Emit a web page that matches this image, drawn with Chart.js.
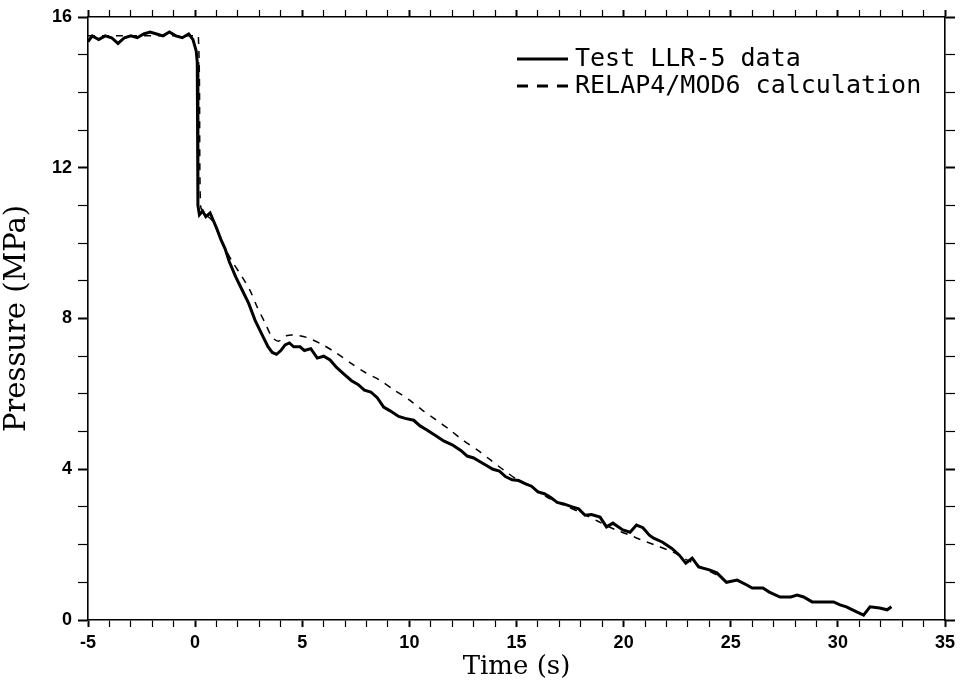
<!DOCTYPE html>
<html>
<head>
<meta charset="utf-8">
<script src="https://cdn.jsdelivr.net/npm/chart.js@4"></script>
<style>
  html, body { margin: 0; padding: 0; background: #fff; }
  #box { width: 965px; height: 683px; }
</style>
</head>
<body>
<div id="box"><canvas id="grafica"></canvas></div>
<script>
// datos
const tiempoEnsayo = [-5.0,-4.8,-4.5,-4.2,-3.9,-3.6,-3.3,-3.0,-2.7,-2.4,-2.1,-1.8,-1.5,-1.2,-0.9,-0.6,-0.3,-0.1,0.05,0.1,0.13,0.2,0.35,0.5,0.7,0.85,1.0,1.2,1.4,1.6,1.9,2.2,2.5,2.8,3.1,3.4,3.6,3.8,4.0,4.2,4.4,4.6,4.9,5.1,5.4,5.7,6.0,6.3,6.6,7.0,7.3,7.6,7.9,8.2,8.5,8.8,9.1,9.5,9.8,10.2,10.5,10.8,11.2,11.6,12.0,12.4,12.7,13.0,13.3,13.6,13.9,14.2,14.5,14.8,15.1,15.4,15.7,16.0,16.3,16.6,16.9,17.2,17.6,17.9,18.2,18.5,18.9,19.2,19.5,19.96,20.3,20.6,20.9,21.2,21.4,21.8,22.25,22.6,22.9,23.2,23.5,24.0,24.35,24.8,25.3,25.75,26.0,26.5,26.8,27.3,27.8,28.1,28.4,28.8,29.3,29.8,30.1,30.4,30.9,31.2,31.5,31.95,32.3,32.5];
const presionEnsayo = [15.35,15.5,15.4,15.5,15.45,15.3,15.45,15.5,15.45,15.55,15.6,15.55,15.5,15.6,15.5,15.45,15.55,15.4,15.1,14.8,11.0,10.75,10.85,10.7,10.8,10.6,10.4,10.1,9.85,9.5,9.1,8.75,8.4,7.95,7.6,7.25,7.1,7.05,7.15,7.3,7.35,7.25,7.25,7.15,7.2,6.95,7.0,6.9,6.7,6.5,6.35,6.25,6.1,6.05,5.9,5.65,5.55,5.4,5.35,5.3,5.15,5.05,4.9,4.75,4.65,4.5,4.35,4.3,4.2,4.1,4.0,3.95,3.8,3.72,3.7,3.62,3.55,3.4,3.35,3.25,3.12,3.08,3.0,2.95,2.78,2.8,2.73,2.47,2.57,2.39,2.33,2.52,2.45,2.25,2.17,2.07,1.9,1.72,1.51,1.64,1.41,1.33,1.25,1.0,1.06,0.93,0.85,0.85,0.74,0.61,0.61,0.66,0.61,0.48,0.48,0.48,0.4,0.35,0.21,0.13,0.35,0.32,0.27,0.35];

const tiempoCalculo = [-5.0,-0.1,0.15,0.25,0.4,0.8,1.2,1.5,1.8,2.2,2.6,2.9,3.25,3.6,3.9,4.3,4.8,5.2,5.9,6.6,7.3,7.9,8.6,9.3,10.0,10.6,11.2,11.9,12.5,13.2,13.8,14.4,15.1,15.8,16.4,17.2,18.0,18.8,19.6,20.3,20.8,21.5,22.3,23.0,23.8,24.5];
const presionCalculo = [15.5,15.5,15.5,11.0,10.8,10.6,10.1,9.75,9.45,9.1,8.7,8.3,7.9,7.5,7.4,7.55,7.55,7.5,7.32,7.08,6.8,6.58,6.37,6.1,5.84,5.57,5.33,5.04,4.77,4.5,4.24,3.98,3.7,3.5,3.27,3.05,2.85,2.62,2.4,2.25,2.13,1.98,1.8,1.58,1.35,1.15];

const etiquetas = ['Test LLR-5 data', 'RELAP4/MOD6 calculation'];

const puntos = (xs, ys) => xs.map((x, i) => ({ x: x, y: ys[i] }));

const fuenteTicks = { family: 'Liberation Sans', size: 18, weight: 'bold' };

// leyenda dibujada dentro del area
const leyenda = {
  id: 'leyenda',
  afterDatasetsDraw(chart) {
    const ctx = chart.ctx;
    const a = chart.chartArea;
    const x0 = a.right - 428, x1 = a.right - 377, xt = a.right - 370;
    const filas = [a.top + 42, a.top + 69];
    ctx.save();
    ctx.strokeStyle = '#000';
    ctx.fillStyle = '#000';
    ctx.font = '25px "DejaVu Sans Mono"';
    ctx.textBaseline = 'middle';
    ctx.lineWidth = 3;
    ctx.beginPath(); ctx.moveTo(x0, filas[0]); ctx.lineTo(x1, filas[0]); ctx.stroke();
    ctx.setLineDash([11, 9]);
    ctx.beginPath(); ctx.moveTo(x0, filas[1]); ctx.lineTo(x1, filas[1]); ctx.stroke();
    ctx.setLineDash([]);
    ctx.fillText(etiquetas[0], xt, filas[0]);
    ctx.fillText(etiquetas[1], xt, filas[1]);
    ctx.restore();
  }
};

const ejeX = (pos, conTexto) => ({
  type: 'linear', position: pos, min: -5, max: 35,
  afterFit: (s) => { s.height = pos === 'bottom' ? 63 : 17; },
  ticks: {
    stepSize: 1, autoSkip: false, maxRotation: 0, padding: 5,
    color: '#000', font: fuenteTicks,
    callback: (v) => (conTexto && v % 5 === 0) ? v : ''
  },
  grid: {
    drawOnChartArea: false, tickLength: 7, color: '#000',
    tickWidth: (c) => (c.tick && c.tick.value % 5 === 0) ? 2 : 1.2
  },
  border: { display: true, color: '#000', width: 1.6 },
  title: conTexto ? { display: true, text: 'Time (s)', color: '#000', font: { family: 'DejaVu Serif', size: 26 }, padding: { top: 0, bottom: 0 } } : { display: false }
});

const ejeY = (pos, conTexto) => ({
  type: 'linear', position: pos, min: 0, max: 16,
  afterFit: (s) => { s.width = pos === 'left' ? 88 : 20; },
  ticks: {
    stepSize: 1, autoSkip: false, padding: 6,
    color: '#000', font: fuenteTicks,
    callback: (v) => (conTexto && v % 4 === 0) ? v : ''
  },
  grid: {
    drawOnChartArea: false, tickLength: 10, color: '#000',
    tickWidth: (c) => (c.tick && c.tick.value % 4 === 0) ? 2 : 1.2
  },
  border: { display: true, color: '#000', width: 1.6 },
  title: conTexto ? { display: true, text: 'Pressure (MPa)', color: '#000', font: { family: 'DejaVu Serif', size: 29 }, padding: { top: 0, bottom: 4 } } : { display: false }
});

new Chart(document.getElementById('grafica'), {
  type: 'line',
  data: {
    datasets: [{
      label: etiquetas[0],
      data: puntos(tiempoEnsayo, presionEnsayo),
      borderColor: '#000',
      borderWidth: 3,
      pointRadius: 0,
      tension: 0,
      xAxisID: 'x', yAxisID: 'y'
    }, {
      label: etiquetas[1],
      data: puntos(tiempoCalculo, presionCalculo),
      borderColor: '#000',
      borderWidth: 1.5,
      borderDash: [7, 7],
      pointRadius: 0,
      tension: 0.3,
      xAxisID: 'x', yAxisID: 'y'
    }]
  },
  options: {
    responsive: true,
    maintainAspectRatio: false,
    animation: false,
    layout: { padding: 0 },
    scales: {
      x: ejeX('bottom', true),
      x2: ejeX('top', false),
      y: ejeY('left', true),
      y2: ejeY('right', false)
    },
    plugins: {
      legend: { display: false },
      tooltip: { enabled: false }
    }
  },
  plugins: [leyenda]
});
</script>
</body>
</html>
